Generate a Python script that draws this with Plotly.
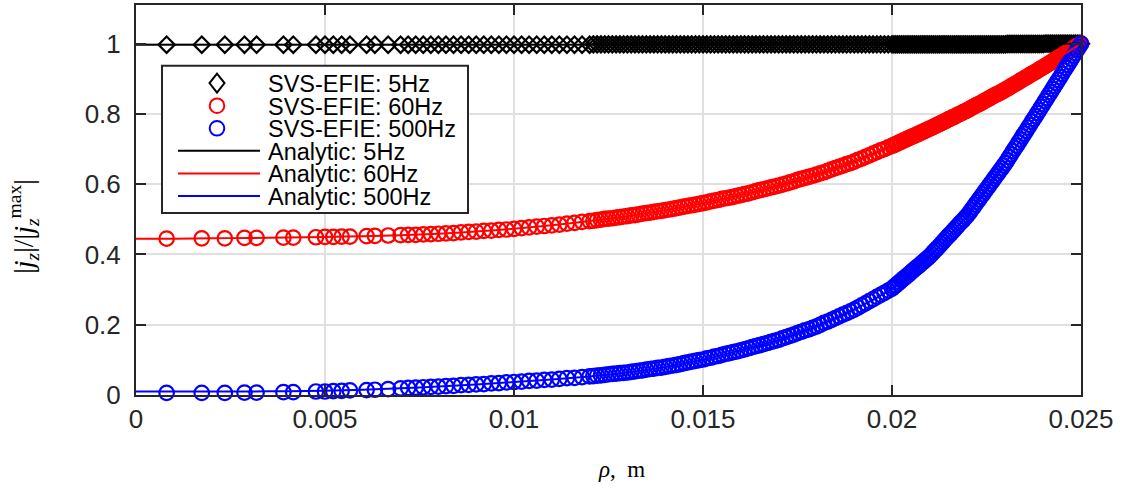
import plotly.graph_objects as go

# ---------------- data ----------------
x_tick_vals = [0, 0.005, 0.01, 0.015, 0.02, 0.025]
x_tick_text = ["0", "0.005", "0.01", "0.015", "0.02", "0.025"]
y_tick_vals = [0, 0.2, 0.4, 0.6, 0.8, 1]
y_tick_text = ["0", "0.2", "0.4", "0.6", "0.8", "1"]

legend_labels = ["SVS-EFIE: 5Hz", "SVS-EFIE: 60Hz", "SVS-EFIE: 500Hz",
                 "Analytic: 5Hz", "Analytic: 60Hz", "Analytic: 500Hz"]

# sample radii of the SVS-EFIE solution (m)
rho_svs = [
    0.00081, 0.00174, 0.00235, 0.00287, 0.00319, 0.0039, 0.00416, 0.00476, 0.005, 0.00522,
    0.00544, 0.00566, 0.0061, 0.00632, 0.00667,
    0.0070, 0.0072, 0.0074, 0.0076, 0.0078, 0.0080, 0.0082, 0.0084, 0.0086, 0.0088,
    0.0090, 0.0092, 0.0094, 0.0096, 0.0098, 0.0100, 0.0102, 0.0104, 0.0106, 0.0108,
    0.0110, 0.0112, 0.0114, 0.0116, 0.0118, 0.0120,
    0.0121, 0.0122, 0.0123, 0.0124, 0.0125, 0.0126, 0.0127, 0.0128, 0.0129, 0.0130,
    0.0131, 0.0132, 0.0133, 0.0134, 0.0135, 0.0136, 0.0137, 0.0138, 0.0139, 0.0140,
    0.0141, 0.0142, 0.0143, 0.0144, 0.0145, 0.0146, 0.0147, 0.0148, 0.0149, 0.0150,
    0.0151, 0.0152, 0.0153, 0.0154, 0.0155, 0.0156, 0.0157, 0.0158, 0.0159, 0.0160,
    0.0161, 0.0162, 0.0163, 0.0164, 0.0165, 0.0166, 0.0167, 0.0168, 0.0169, 0.0170,
    0.0171, 0.0172, 0.0173, 0.0174, 0.0175, 0.0176, 0.0177, 0.0178, 0.0179, 0.0180,
    0.0181, 0.0182, 0.0183, 0.0184, 0.0185, 0.0186, 0.0187, 0.0188, 0.0189, 0.0190,
    0.0191, 0.0192, 0.0193, 0.0194, 0.0195, 0.0196, 0.0197, 0.0198, 0.0199, 0.0200,
    0.02005, 0.0201, 0.02015, 0.0202, 0.02025, 0.0203, 0.02035, 0.0204, 0.02045, 0.0205,
    0.02055, 0.0206, 0.02065, 0.0207, 0.02075, 0.0208, 0.02085, 0.0209, 0.02095, 0.0210,
    0.02105, 0.0211, 0.02115, 0.0212, 0.02125, 0.0213, 0.02135, 0.0214, 0.02145, 0.0215,
    0.02155, 0.0216, 0.02165, 0.0217, 0.02175, 0.0218, 0.02185, 0.0219, 0.02195, 0.0220,
    0.02205, 0.0221, 0.02215, 0.0222, 0.02225, 0.0223, 0.02235, 0.0224, 0.02245, 0.0225,
    0.02255, 0.0226, 0.02265, 0.0227, 0.02275, 0.0228, 0.02285, 0.0229, 0.02295, 0.0230,
    0.02305, 0.0231, 0.02315, 0.0232, 0.02325, 0.0233, 0.02335, 0.0234, 0.02345, 0.0235,
    0.02355, 0.0236, 0.02365, 0.0237, 0.02375, 0.0238, 0.02385, 0.0239, 0.02395, 0.0240,
    0.02405, 0.0241, 0.02415, 0.0242, 0.02425, 0.0243, 0.02435, 0.0244, 0.02445, 0.0245,
    0.02455, 0.0246, 0.02465, 0.0247, 0.02475, 0.0248, 0.02485, 0.0249, 0.02495, 0.0250,
]

svs_5hz = [
    0.997, 0.997, 0.997, 0.997, 0.997, 0.997, 0.997, 0.997, 0.997, 0.997,
    0.997, 0.997, 0.997, 0.997, 0.997,
    0.997, 0.997, 0.997, 0.997, 0.997, 0.997, 0.997, 0.997, 0.997, 0.997,
    0.997, 0.997, 0.997, 0.997, 0.997, 0.997, 0.997, 0.997, 0.997, 0.997,
    0.997, 0.997, 0.997, 0.997, 0.997, 0.997,
    0.998, 0.998, 0.998, 0.998, 0.998, 0.998, 0.998, 0.998, 0.998, 0.998,
    0.998, 0.998, 0.998, 0.998, 0.998, 0.998, 0.998, 0.998, 0.998, 0.998,
    0.998, 0.998, 0.998, 0.998, 0.998, 0.998, 0.998, 0.998, 0.998, 0.998,
    0.998, 0.998, 0.998, 0.998, 0.998, 0.998, 0.998, 0.998, 0.998, 0.998,
    0.998, 0.998, 0.998, 0.998, 0.998, 0.998, 0.998, 0.998, 0.998, 0.998,
    0.998, 0.998, 0.998, 0.998, 0.998, 0.998, 0.998, 0.998, 0.998, 0.998,
    0.998, 0.998, 0.998, 0.998, 0.998, 0.998, 0.998, 0.998, 0.998, 0.998,
    0.998, 0.998, 0.998, 0.998, 0.998, 0.998, 0.998, 0.998, 0.998, 0.998,
    0.998, 0.998, 0.998, 0.998, 0.998, 0.998, 0.998, 0.998, 0.998, 0.998,
    0.998, 0.998, 0.998, 0.998, 0.998, 0.998, 0.998, 0.998, 0.998, 0.998,
    0.998, 0.998, 0.998, 0.998, 0.998, 0.998, 0.998, 0.998, 0.998, 0.998,
    0.998, 0.998, 0.998, 0.998, 0.998, 0.998, 0.998, 0.998, 0.998, 0.998,
    0.998, 0.998, 0.998, 0.998, 0.998, 0.998, 0.998, 0.998, 0.998, 0.998,
    0.998, 0.998, 0.998, 0.998, 0.998, 0.998, 0.998, 0.998, 0.998, 0.998,
    0.999, 0.999, 0.999, 0.999, 0.999, 0.999, 0.999, 0.999, 0.999, 0.999,
    0.999, 0.999, 0.999, 0.999, 0.999, 0.999, 0.999, 0.999, 0.999, 0.999,
    1.000, 1.000, 1.000, 1.000, 1.000, 1.000, 1.000, 1.000, 1.000, 1.000,
    1.000, 1.000, 1.000, 1.000, 1.000, 1.000, 1.000, 1.000, 1.000, 1.000,
]

svs_60hz = [
    0.445, 0.446, 0.446, 0.447, 0.447, 0.448, 0.448, 0.449, 0.450, 0.450,
    0.451, 0.451, 0.452, 0.453, 0.454,
    0.455, 0.456, 0.456, 0.457, 0.458, 0.459, 0.460, 0.461, 0.463, 0.464,
    0.465, 0.467, 0.468, 0.470, 0.471, 0.473, 0.475, 0.477, 0.479, 0.481,
    0.483, 0.485, 0.488, 0.490, 0.493, 0.495,
    0.496, 0.498, 0.499, 0.501, 0.502, 0.503, 0.505, 0.506, 0.508, 0.509,
    0.511, 0.512, 0.514, 0.516, 0.518, 0.519, 0.521, 0.523, 0.524, 0.526,
    0.528, 0.530, 0.532, 0.534, 0.536, 0.538, 0.540, 0.542, 0.544, 0.546,
    0.548, 0.551, 0.553, 0.555, 0.558, 0.560, 0.562, 0.564, 0.567, 0.569,
    0.572, 0.574, 0.577, 0.580, 0.583, 0.585, 0.588, 0.591, 0.593, 0.596,
    0.599, 0.602, 0.605, 0.608, 0.612, 0.615, 0.618, 0.621, 0.624, 0.627,
    0.631, 0.634, 0.638, 0.642, 0.646, 0.649, 0.653, 0.657, 0.660, 0.664,
    0.669, 0.673, 0.678, 0.682, 0.687, 0.691, 0.696, 0.700, 0.705, 0.709,
    0.711, 0.714, 0.716, 0.719, 0.721, 0.724, 0.726, 0.729, 0.731, 0.734,
    0.736, 0.738, 0.741, 0.743, 0.746, 0.748, 0.751, 0.753, 0.756, 0.758,
    0.761, 0.763, 0.766, 0.769, 0.771, 0.774, 0.777, 0.779, 0.782, 0.785,
    0.787, 0.790, 0.792, 0.795, 0.798, 0.800, 0.803, 0.806, 0.808, 0.811,
    0.814, 0.817, 0.820, 0.823, 0.826, 0.828, 0.831, 0.834, 0.837, 0.840,
    0.843, 0.846, 0.849, 0.852, 0.855, 0.857, 0.860, 0.863, 0.866, 0.869,
    0.872, 0.875, 0.879, 0.882, 0.885, 0.888, 0.891, 0.895, 0.898, 0.901,
    0.904, 0.907, 0.911, 0.914, 0.917, 0.920, 0.923, 0.927, 0.930, 0.933,
    0.936, 0.940, 0.943, 0.946, 0.950, 0.953, 0.956, 0.960, 0.963, 0.966,
    0.970, 0.973, 0.977, 0.980, 0.983, 0.987, 0.990, 0.993, 0.997, 1.000,
]

svs_500hz = [
    0.006, 0.006, 0.006, 0.007, 0.007, 0.008, 0.008, 0.010, 0.010, 0.011,
    0.012, 0.013, 0.014, 0.015, 0.017,
    0.019, 0.020, 0.021, 0.022, 0.023, 0.024, 0.025, 0.026, 0.028, 0.029,
    0.030, 0.031, 0.033, 0.034, 0.036, 0.037, 0.038, 0.040, 0.041, 0.043,
    0.044, 0.046, 0.048, 0.049, 0.051, 0.053,
    0.054, 0.055, 0.056, 0.057, 0.059, 0.060, 0.061, 0.062, 0.063, 0.064,
    0.066, 0.067, 0.069, 0.070, 0.072, 0.074, 0.075, 0.077, 0.078, 0.080,
    0.082, 0.084, 0.086, 0.088, 0.091, 0.093, 0.095, 0.097, 0.099, 0.101,
    0.104, 0.106, 0.109, 0.111, 0.114, 0.117, 0.119, 0.122, 0.124, 0.127,
    0.130, 0.133, 0.136, 0.139, 0.142, 0.145, 0.148, 0.151, 0.154, 0.157,
    0.161, 0.165, 0.168, 0.172, 0.176, 0.180, 0.184, 0.187, 0.191, 0.195,
    0.200, 0.205, 0.209, 0.214, 0.219, 0.224, 0.229, 0.233, 0.238, 0.243,
    0.249, 0.255, 0.261, 0.267, 0.273, 0.279, 0.285, 0.291, 0.297, 0.303,
    0.308, 0.312, 0.317, 0.321, 0.326, 0.331, 0.335, 0.340, 0.344, 0.349,
    0.354, 0.358, 0.363, 0.367, 0.372, 0.377, 0.381, 0.386, 0.390, 0.395,
    0.401, 0.407, 0.413, 0.418, 0.424, 0.430, 0.436, 0.442, 0.448, 0.454,
    0.459, 0.465, 0.471, 0.477, 0.483, 0.489, 0.494, 0.500, 0.506, 0.512,
    0.519, 0.527, 0.534, 0.542, 0.549, 0.556, 0.564, 0.571, 0.579, 0.586,
    0.593, 0.601, 0.608, 0.616, 0.623, 0.630, 0.638, 0.645, 0.653, 0.660,
    0.668, 0.677, 0.685, 0.694, 0.702, 0.710, 0.719, 0.727, 0.736, 0.744,
    0.752, 0.761, 0.769, 0.778, 0.786, 0.794, 0.803, 0.811, 0.820, 0.828,
    0.837, 0.845, 0.854, 0.862, 0.871, 0.880, 0.888, 0.897, 0.905, 0.914,
    0.923, 0.931, 0.940, 0.948, 0.957, 0.966, 0.974, 0.983, 0.991, 1.000,
]

# analytic curves
rho_analytic = [0.000, 0.001, 0.002, 0.003, 0.004, 0.005, 0.006, 0.007, 0.008, 0.009,
                0.010, 0.011, 0.012, 0.013, 0.014, 0.015, 0.016, 0.017, 0.018, 0.019,
                0.020, 0.021, 0.022, 0.023, 0.024, 0.025]
analytic_5hz = [0.997, 0.997, 0.997, 0.997, 0.997, 0.997, 0.997, 0.997, 0.997, 0.997,
                0.997, 0.997, 0.997, 0.998, 0.998, 0.998, 0.998, 0.998, 0.998, 0.998,
                0.998, 0.999, 0.999, 0.999, 1.000, 1.000]
analytic_60hz = [0.445, 0.445, 0.446, 0.447, 0.448, 0.450, 0.452, 0.455, 0.459, 0.465,
                 0.473, 0.483, 0.495, 0.509, 0.526, 0.546, 0.569, 0.596, 0.627, 0.664,
                 0.709, 0.758, 0.811, 0.869, 0.933, 1.000]
analytic_500hz = [0.010, 0.010, 0.010, 0.010, 0.011, 0.012, 0.015, 0.019, 0.024, 0.030,
                  0.037, 0.044, 0.053, 0.064, 0.080, 0.101, 0.127, 0.157, 0.195, 0.243,
                  0.303, 0.395, 0.512, 0.660, 0.828, 1.000]

# ---------------- layout geometry (pixels) ----------------
W, H = 1132, 496
ML, MR, MT, MB = 136, 51, 3, 101
PW, PH = W - ML - MR, H - MT - MB


def px_x(px):
    return (px - ML) / PW


def px_y(py):
    return (H - MB - py) / PH


BLACK, RED, BLUE = "#000000", "#ff0000", "#0000ff"
AXC = "#262626"
GRID = "#e0e0e0"
SANS = "Liberation Sans, Arial, Helvetica, sans-serif"
SERIF = "Liberation Serif, DejaVu Serif, serif"

fig = go.Figure()

fig.add_trace(go.Scatter(x=rho_svs, y=svs_5hz, mode="markers", name=legend_labels[0],
                         marker=dict(symbol="diamond-open", size=12.5, color=BLACK,
                                     line=dict(width=2.2, color=BLACK)),
                         cliponaxis=False, showlegend=False))
fig.add_trace(go.Scatter(x=rho_svs, y=svs_60hz, mode="markers", name=legend_labels[1],
                         marker=dict(symbol="circle-open", size=14.5, color=RED,
                                     line=dict(width=2.2, color=RED)),
                         cliponaxis=False, showlegend=False))
fig.add_trace(go.Scatter(x=rho_svs, y=svs_500hz, mode="markers", name=legend_labels[2],
                         marker=dict(symbol="circle-open", size=14.5, color=BLUE,
                                     line=dict(width=2.2, color=BLUE)),
                         cliponaxis=False, showlegend=False))
for yy, col, nm in [(analytic_5hz, BLACK, legend_labels[3]),
                    (analytic_60hz, RED, legend_labels[4]),
                    (analytic_500hz, BLUE, legend_labels[5])]:
    fig.add_trace(go.Scatter(x=rho_analytic, y=yy, mode="lines", name=nm,
                             line=dict(color=col, width=2, shape="spline", smoothing=0.6),
                             showlegend=False))

axis_common = dict(showline=True, linecolor=AXC, linewidth=2, mirror="ticks",
                   ticks="inside", ticklen=10, tickwidth=1.5, tickcolor=AXC,
                   showgrid=True, gridcolor=GRID, gridwidth=1.5, zeroline=False,
                   tickfont=dict(family=SANS, size=26, color=AXC))

fig.update_layout(
    width=W, height=H,
    margin=dict(l=ML, r=MR, t=MT, b=MB, pad=0),
    paper_bgcolor="white", plot_bgcolor="white",
    xaxis=dict(range=[0, 0.025], tickvals=x_tick_vals, ticktext=x_tick_text,
               ticklabelstandoff=0, **axis_common),
    yaxis=dict(range=[0, 1.11], tickvals=y_tick_vals, ticktext=y_tick_text,
               ticklabelstandoff=8, **axis_common),
    showlegend=False,
)

# ---------------- hand-built legend (MATLAB-style compact box) ----------------
shapes = []
annotations = []
box = dict(x0=162, x1=468, y0=64, y1=212)
shapes.append(dict(type="rect", xref="paper", yref="paper",
                   x0=px_x(box["x0"]), x1=px_x(box["x1"]),
                   y0=px_y(box["y1"]), y1=px_y(box["y0"]),
                   line=dict(color=AXC, width=2), fillcolor="white", layer="above"))
row_y = [81.5 + i * 22.7 for i in range(6)]
sym_x = 217
line_x0, line_x1 = 178, 260
text_x = 266

shapes.append(dict(type="path", xref="paper", yref="paper", xsizemode="pixel", ysizemode="pixel",
                   xanchor=px_x(sym_x), yanchor=px_y(row_y[0]),
                   path="M0,9.5 L7.5,0 L0,-9.5 L-7.5,0 Z",
                   line=dict(color=BLACK, width=2), layer="above"))
for i, col in [(1, RED), (2, BLUE)]:
    shapes.append(dict(type="circle", xref="paper", yref="paper", xsizemode="pixel", ysizemode="pixel",
                       xanchor=px_x(sym_x), yanchor=px_y(row_y[i]),
                       x0=-7.3, x1=7.3, y0=-7.3, y1=7.3,
                       line=dict(color=col, width=2), layer="above"))
for i, col in [(3, BLACK), (4, RED), (5, BLUE)]:
    shapes.append(dict(type="line", xref="paper", yref="paper",
                       x0=px_x(line_x0), x1=px_x(line_x1), y0=px_y(row_y[i]), y1=px_y(row_y[i]),
                       line=dict(color=col, width=2), layer="above"))
for i, lab in enumerate(legend_labels):
    annotations.append(dict(text=lab, xref="paper", yref="paper", x=px_x(text_x), y=px_y(row_y[i] + 1),
                            xanchor="left", yanchor="middle", showarrow=False,
                            font=dict(family=SANS, size=23.5, color=BLACK)))

# axis titles
annotations.append(dict(text="<i>ρ</i>,  m", xref="paper", yref="paper",
                        x=px_x(621), y=px_y(470), xanchor="center", yanchor="middle",
                        showarrow=False, font=dict(family=SERIF, size=23, color=BLACK)))
annotations.append(dict(text="|<i>j</i><sub><i>z</i></sub>|/|<i>j</i><sub><i>z</i></sub><sup>max</sup>|",
                        xref="paper", yref="paper", x=px_x(24), y=px_y(226),
                        xanchor="center", yanchor="middle", textangle=-90, showarrow=False,
                        font=dict(family=SERIF, size=28, color=BLACK)))

fig.update_layout(shapes=shapes, annotations=annotations)

fig.write_html("out.html", config={"displayModeBar": False},
               post_script="document.body.style.margin='0';document.body.style.padding='0';")
